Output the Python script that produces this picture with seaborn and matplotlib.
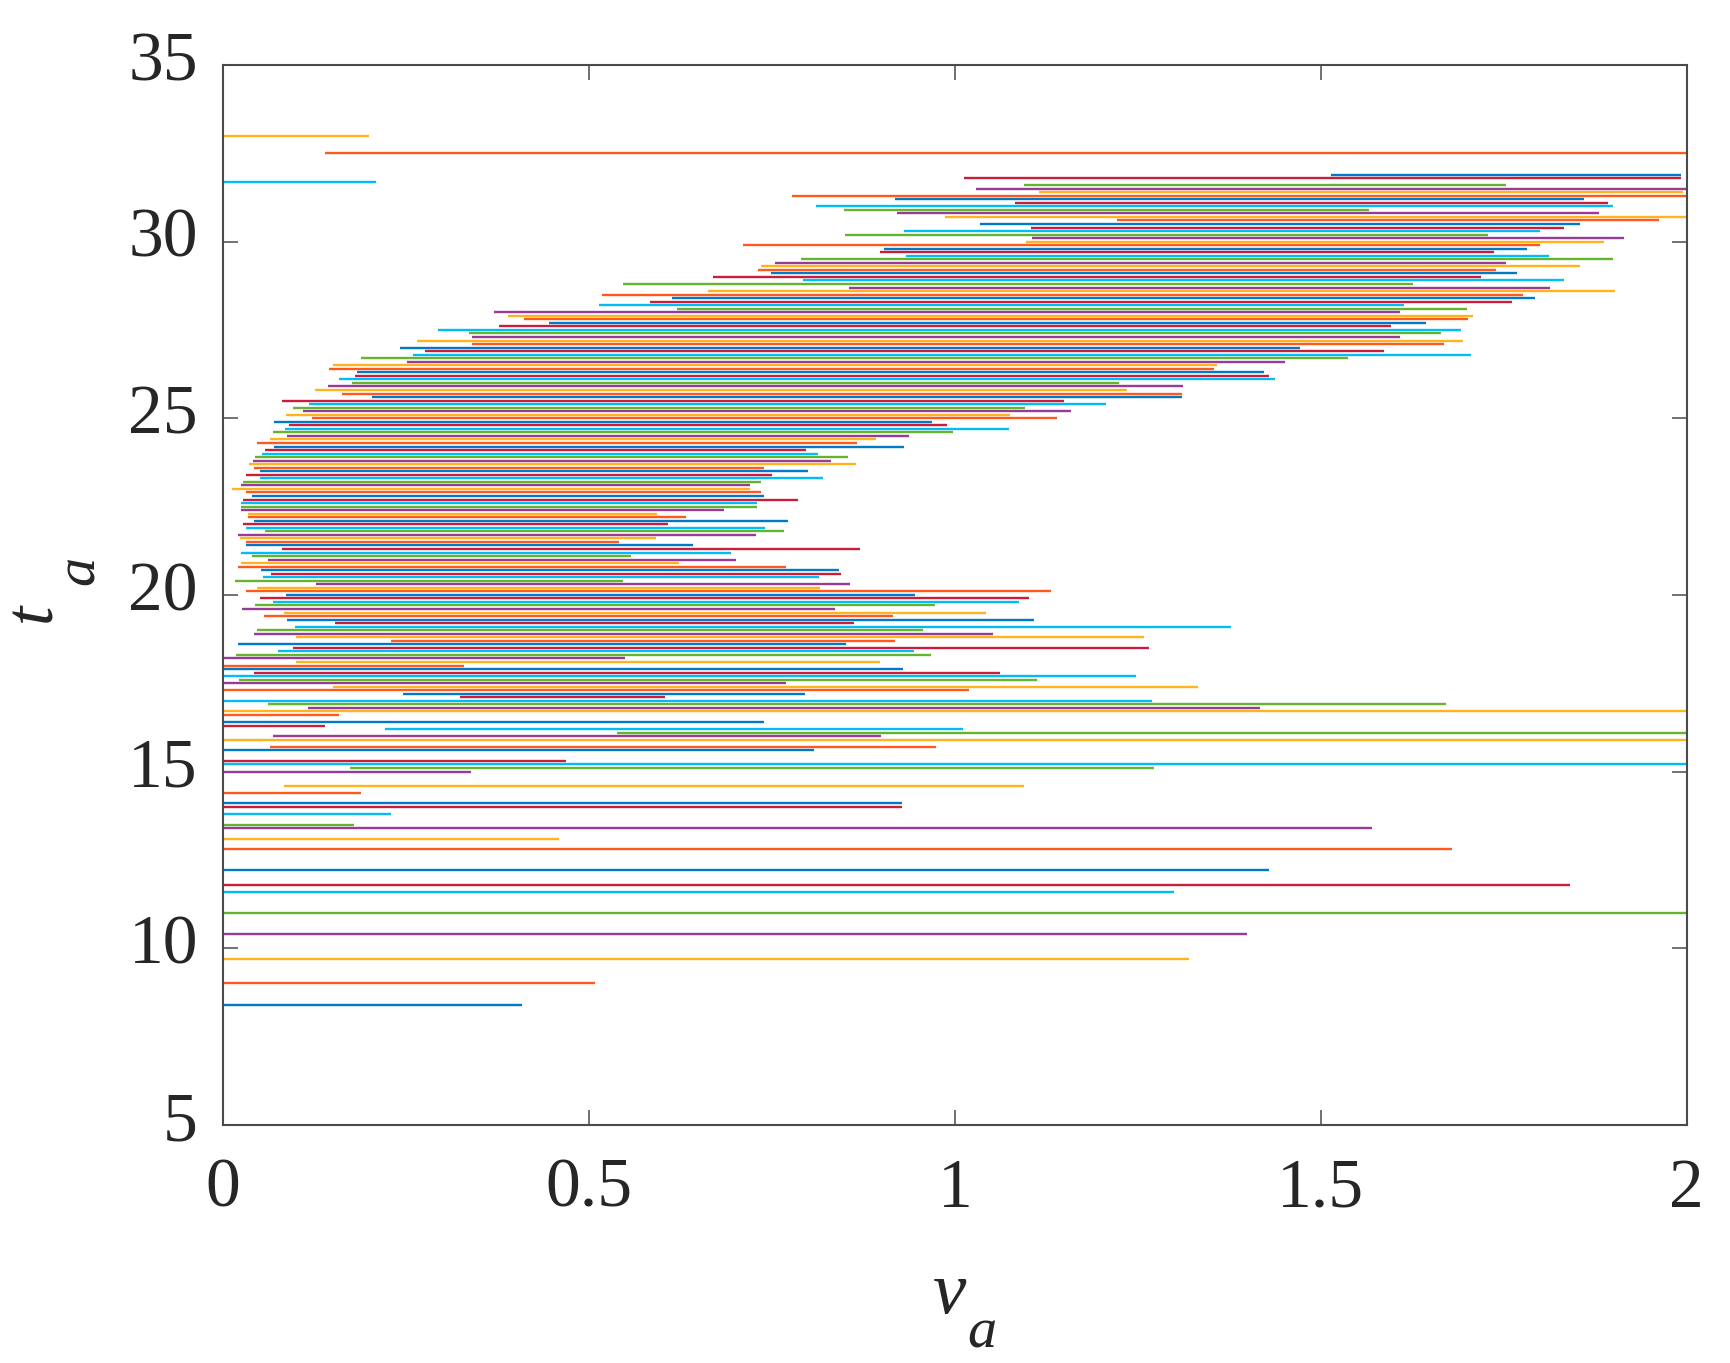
import numpy as np
import pandas as pd
import seaborn as sns
import matplotlib
matplotlib.use('Agg')
import matplotlib.pyplot as plt
from matplotlib.transforms import ScaledTranslation

# Rows, top to bottom
t_a = [33.0, 32.5, 31.9, 31.8, 31.7, 31.6, 31.5, 31.4, 31.3, 31.2,
       31.1, 31.0, 30.9, 30.8, 30.7, 30.6, 30.5, 30.4, 30.3, 30.2,
       30.1, 30.0, 29.9, 29.8, 29.7, 29.6, 29.5, 29.4, 29.3, 29.2,
       29.1, 29.0, 28.9, 28.8, 28.7, 28.6, 28.5, 28.4, 28.3, 28.2,
       28.1, 28.0, 27.9, 27.8, 27.7, 27.6, 27.5, 27.4, 27.3, 27.2,
       27.1, 27.0, 26.9, 26.8, 26.7, 26.6, 26.5, 26.4, 26.3, 26.2,
       26.1, 26.0, 25.9, 25.8, 25.7, 25.6, 25.5, 25.4, 25.3, 25.2,
       25.1, 25.0, 24.9, 24.8, 24.7, 24.6, 24.5, 24.4, 24.3, 24.2,
       24.1, 24.0, 23.9, 23.8, 23.7, 23.6, 23.5, 23.4, 23.3, 23.2,
       23.1, 23.0, 22.9, 22.8, 22.7, 22.6, 22.5, 22.4, 22.3, 22.2,
       22.1, 22.0, 21.9, 21.8, 21.7, 21.6, 21.5, 21.4, 21.3, 21.2,
       21.1, 21.0, 20.9, 20.8, 20.7, 20.6, 20.5, 20.4, 20.3, 20.2,
       20.1, 20.0, 19.9, 19.8, 19.7, 19.6, 19.5, 19.4, 19.3, 19.2,
       19.1, 19.0, 18.9, 18.8, 18.7, 18.6, 18.5, 18.4, 18.3, 18.2,
       18.1, 18.0, 17.9, 17.8, 17.7, 17.6, 17.5, 17.4, 17.3, 17.2,
       17.1, 17.0, 16.9, 16.8, 16.7, 16.6, 16.4, 16.3, 16.2, 16.1,
       16.0, 15.9, 15.7, 15.6, 15.3, 15.2, 15.1, 15.0, 14.6, 14.4,
       14.1, 14.0, 13.8, 13.5, 13.4, 13.1, 12.8, 12.2, 11.8, 11.6,
       11.0, 10.4, 9.7, 9.0, 8.4]

v_start = [0, .139, 1.514, 1.013, 0, 1.094, 1.029, 1.115, .777, .919,
           1.083, .811, .848, .921, .987, 1.222, 1.034, 1.104, .931, .850,
           1.105, 1.097, .711, .903, .898, .933, .790, .755, .735, .731,
           .749, .670, .793, .547, .855, .663, .518, .614, .583, .514,
           .621, .370, .389, .412, .445, .377, .294, .336, .340, .265,
           .340, .242, .276, .259, .189, .251, .150, .145, .183, .181,
           .159, .176, .143, .126, .162, .203, .080, .117, .096, .109,
           .086, .121, .070, .090, .085, .068, .087, .064, .047, .070,
           .058, .053, .044, .041, .035, .043, .050, .032, .051, .027,
           .025, .012, .031, .040, .027, .024, .025, .025, .034, .034,
           .043, .028, .031, .058, .020, .023, .032, .032, .081, .025,
           .039, .062, .024, .021, .052, .066, .055, .017, .127, .046,
           .032, .086, .051, .069, .044, .026, .084, .056, .088, .153,
           .098, .046, .043, .100, .230, .021, .096, .075, .018, 0,
           .100, 0, 0, .043, 0, .022, 0, .151, 0, .246,
           .324, 0, .062, .116, 0, 0, 0, 0, .222, .539,
           .069, 0, .064, 0, 0, 0, .173, 0, .084, 0,
           0, 0, 0, 0, 0, 0, 0, 0, 0, 0,
           0, 0, 0, 0, 0]

v_end = [.199, 2, 1.993, 1.993, .209, 1.753, 2, 1.995, 2, 1.860,
         1.893, 1.900, 1.566, 1.881, 2, 1.962, 1.854, 1.833, 1.800, 1.729,
         1.914, 1.887, 1.800, 1.782, 1.737, 1.812, 1.899, 1.754, 1.854, 1.740,
         1.769, 1.719, 1.832, 1.626, 1.814, 1.902, 1.777, 1.793, 1.762, 1.614,
         1.700, 1.609, 1.708, 1.701, 1.644, 1.596, 1.692, 1.665, 1.609, 1.694,
         1.669, 1.472, 1.586, 1.706, 1.538, 1.451, 1.358, 1.354, 1.423, 1.430,
         1.438, 1.225, 1.312, 1.235, 1.311, 1.311, 1.149, 1.207, 1.096, 1.159,
         1.076, 1.140, .969, .989, 1.074, .997, .937, .893, .866, .930,
         .797, .813, .854, .831, .865, .740, .800, .750, .820, .735,
         .720, .720, .735, .740, .786, .730, .730, .684, .593, .633,
         .772, .608, .741, .767, .729, .592, .541, .642, .870, .694,
         .558, .701, .623, .770, .842, .845, .815, .547, .857, .816,
         1.131, .946, 1.101, 1.088, .973, .836, 1.043, .916, 1.108, .862,
         1.378, .956, 1.052, 1.259, .919, .851, 1.265, .944, .967, .549,
         .898, .329, .929, 1.062, 1.248, 1.112, .769, 1.332, 1.019, .795,
         .604, 1.270, 1.672, 1.417, 2, .159, .740, .139, 1.011, 2,
         .899, 2, .974, .808, .469, 2, 1.272, .339, 1.094, .189,
         .928, .928, .229, .179, 1.570, .459, 1.680, 1.430, 1.841, 1.299,
         2, 1.400, 1.320, .509, .409]

x_ticks = [0, 0.5, 1, 1.5, 2]
x_tick_labels = ['0', '0.5', '1', '1.5', '2']
y_ticks = [5, 10, 15, 20, 25, 30, 35]

W, H = 1730, 1363
line_colors = ['#FFB41E', '#FF5A1E', '#0079C6', '#C81E3C', '#00BEF5', '#64B42D', '#963C96']

sns.set_theme(style='ticks', rc={'font.family': ['Liberation Serif', 'DejaVu Serif'],
                                 'axes.edgecolor': '#4a4a4a', 'axes.linewidth': 1.5,
                                 'xtick.color': '#4a4a4a', 'ytick.color': '#4a4a4a',
                                 'text.color': '#262626'})

df = pd.DataFrame({'row': np.repeat(np.arange(len(t_a)), 2),
                   't_a': np.repeat(t_a, 2),
                   'v_a': np.column_stack([v_start, v_end]).ravel()})

fig = plt.figure(figsize=(W / 100, H / 100), dpi=100)
ax = fig.add_axes([223 / W, 1 - 1124.8 / H, (1686.5 - 223) / W, (1124.8 - 65) / H])

sns.lineplot(data=df, x='v_a', y='t_a', hue='row',
             palette=sns.color_palette(line_colors, len(t_a)),
             estimator=None, sort=False, legend=False, linewidth=1.7,
             solid_capstyle='butt', ax=ax)

ax.set_xlim(0, 2)
ax.set_ylim(5, 35)
ax.set_xticks(x_ticks)
ax.set_xticklabels(x_tick_labels)
ax.set_yticks(y_ticks)
ax.tick_params(direction='in', length=10.5, width=1.1, top=True, right=True,
               labelsize=50, labelcolor='#262626')
ax.tick_params(axis='x', pad=24)
ax.tick_params(axis='y', pad=18)
ax.set_xlabel('')
ax.set_ylabel('')

# y tick labels sit a bit above their ticks
up = ScaledTranslation(0, 9 / 100, fig.dpi_scale_trans)
for lab in ax.get_yticklabels():
    lab.set_transform(lab.get_transform() + up)

# axis names, the subscripts hang well below
fig.text(950 / W, 1 - 1295 / H, 'v', fontsize=54, style='italic', ha='center', va='center')
fig.text(982 / W, 1 - 1333 / H, 'a', fontsize=42, style='italic', ha='center', va='center')
fig.text(34 / W, 1 - 612 / H, 't', fontsize=50, style='italic', rotation=90, ha='center', va='center')
fig.text(80 / W, 1 - 570 / H, 'a', fontsize=42, style='italic', rotation=90, ha='center', va='center')

fig.savefig('out.png', dpi=100)
